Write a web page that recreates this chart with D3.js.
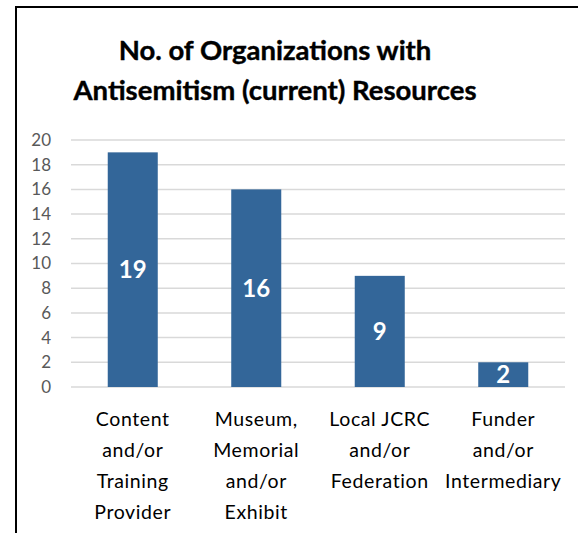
<!DOCTYPE html>
<html>
<head>
<meta charset="utf-8">
<script src="https://cdn.jsdelivr.net/npm/d3@7"></script>
<style>
  html, body { margin: 0; padding: 0; background: #fff; }
  svg { display: block; }
  text { font-family: Lato, "Open Sans", sans-serif; }
</style>
</head>
<body>
<svg id="chart" width="578" height="533"></svg>
<script>
const titleLines = ["No. of Organizations with", "Antisemitism (current) Resources"];
const categories = [
  ["Content", "and/or", "Training", "Provider"],
  ["Museum,", "Memorial", "and/or", "Exhibit"],
  ["Local JCRC", "and/or", "Federation"],
  ["Funder", "and/or", "Intermediary"]
];
const values = [19, 16, 9, 2];
const yTicks = [0, 2, 4, 6, 8, 10, 12, 14, 16, 18, 20];

const svg = d3.select("#chart");
const W = 578, H = 533;
const plot = { left: 71, right: 565, top: 140, bottom: 387 };

// frame (left and top borders)
svg.append("path")
  .attr("d", `M16,${H} L16,7 L${W},7`)
  .attr("fill", "none")
  .attr("stroke", "#000")
  .attr("stroke-width", 2);

// title
svg.append("g").selectAll("text").data(titleLines).join("text")
  .attr("x", 275)
  .attr("y", (d, i) => 60 + i * 40)
  .attr("text-anchor", "middle")
  .attr("font-size", 27.5)
  .attr("font-weight", "bold")
  .attr("fill", "#000")
  .attr("stroke", "#000")
  .attr("stroke-width", 0.4)
  .text(d => d);

const x = d3.scaleBand()
  .domain(d3.range(categories.length))
  .range([plot.left, plot.right])
  .paddingInner(0.595)
  .paddingOuter(0.2975);

const y = d3.scaleLinear().domain([0, 20]).range([plot.bottom, plot.top]);

// gridlines
svg.append("g").selectAll("line").data(yTicks).join("line")
  .attr("x1", plot.left).attr("x2", plot.right)
  .attr("y1", d => y(d)).attr("y2", d => y(d))
  .attr("stroke", "#d9d9d9").attr("stroke-width", 1.5);

// y axis labels
const yAxis = d3.axisLeft(y).tickValues(yTicks).tickSize(0).tickPadding(0);
const gy = svg.append("g").attr("transform", "translate(51,0)").call(yAxis);
gy.select(".domain").remove();
gy.selectAll("text")
  .attr("font-family", "Lato, sans-serif")
  .attr("font-size", 17)
  .attr("fill", "#595959");

// bars
svg.append("g").selectAll("rect").data(values).join("rect")
  .attr("x", (d, i) => x(i))
  .attr("width", x.bandwidth())
  .attr("y", d => y(d))
  .attr("height", d => y(0) - y(d))
  .attr("fill", "#336699");

// value labels
svg.append("g").selectAll("text").data(values).join("text")
  .attr("x", (d, i) => x(i) + x.bandwidth() / 2)
  .attr("y", d => (y(d) + y(0)) / 2)
  .attr("dy", "0.36em")
  .attr("text-anchor", "middle")
  .attr("font-size", 24)
  .attr("font-weight", "bold")
  .attr("fill", "#fff")
  .text(d => d);

// category labels
const cat = svg.append("g").selectAll("text").data(categories).join("text")
  .attr("text-anchor", "middle")
  .attr("font-size", 19.5)
  .attr("letter-spacing", 0.6)
  .attr("fill", "#000");
cat.selectAll("tspan").data((d, i) => d.map(t => ({ t, i }))).join("tspan")
  .attr("x", d => x(d.i) + x.bandwidth() / 2)
  .attr("y", (d, j) => 426 + j * 31)
  .text(d => d.t);
</script>
</body>
</html>
